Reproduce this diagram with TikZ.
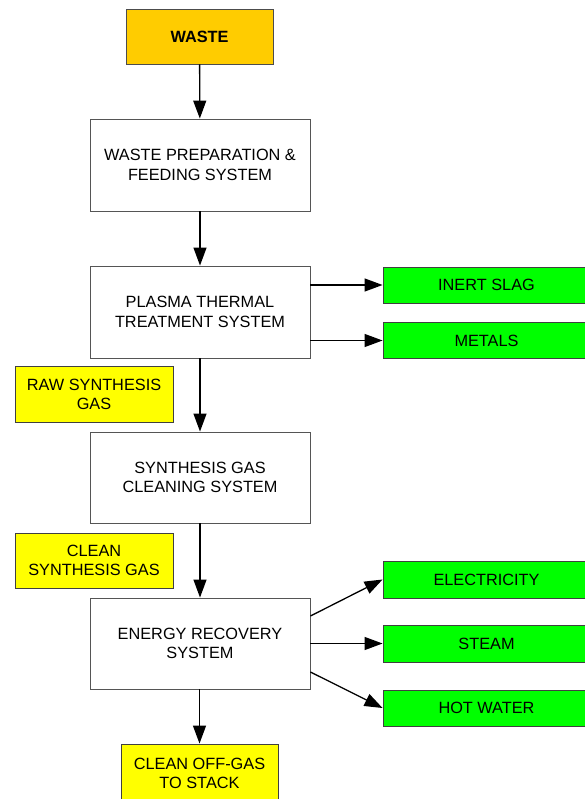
\documentclass[tikz,border=0pt]{standalone}
\usepackage{fontspec}
\setmainfont{Liberation Sans}
\usetikzlibrary{arrows.meta,calc}
\definecolor{wasteorange}{HTML}{FFCC00}
\definecolor{labelyellow}{HTML}{FFFF00}
\definecolor{outgreen}{HTML}{00FF00}
\definecolor{boxborder}{HTML}{555555}
\begin{document}
\begin{tikzpicture}[x=1pt,y=-1pt,
  every node/.style={font=\fontsize{16.3}{19.5}\selectfont, align=center, inner sep=0pt},
  procbox/.style={draw=boxborder, line width=0.9pt, fill=white, minimum width=220pt, minimum height=92pt},
  yellowbox/.style={draw=black!75, line width=0.9pt, fill=labelyellow, minimum width=158pt, minimum height=56pt},
  greenbox/.style={draw=black!75, line width=0.9pt, fill=outgreen, minimum width=207pt, minimum height=36pt},
  flow/.style={line width=1.3pt, -{Triangle[length=18pt,width=13pt]}}
]
\useasboundingbox (0,0) rectangle (584,799);
\node[draw=black!70, line width=0.9pt, fill=wasteorange, minimum width=147pt, minimum height=55pt, font=\fontsize{16.3}{19.5}\selectfont\bfseries] (waste) at (199.5,36.5) {WASTE};
\node[procbox] (prep) at (200,165) {WASTE PREPARATION \&\\FEEDING SYSTEM};
\node[procbox] (plasma) at (200,312) {PLASMA THERMAL\\TREATMENT SYSTEM};
\node[greenbox] (slag) at (486.5,285) {INERT SLAG};
\node[greenbox] (metals) at (486.5,340.5) {METALS};
\node[yellowbox] (raw) at (94,394.5) {RAW SYNTHESIS\\GAS};
\node[procbox, minimum height=91pt] (clean) at (200,477.5) {SYNTHESIS GAS\\CLEANING SYSTEM};
\node[yellowbox, minimum height=55pt] (cleangas) at (94,560.5) {CLEAN\\SYNTHESIS GAS};
\node[procbox, minimum height=91pt] (energy) at (200,643.5) {ENERGY RECOVERY\\SYSTEM};
\node[greenbox, minimum height=37pt] (elec) at (486.5,579.5) {ELECTRICITY};
\node[greenbox, minimum height=37pt] (steam) at (486.5,643.5) {STEAM};
\node[greenbox] (hot) at (486.5,708) {HOT WATER};
\node[yellowbox, minimum width=157pt, minimum height=62pt, text depth=0pt] (offgas) at (199.5,775) {\raisebox{14pt}{\parbox{150pt}{\centering CLEAN OFF-GAS\\TO STACK}}};
\draw[flow] (waste) -- (prep);
\draw[flow] (prep) -- (plasma);
\draw[flow] (plasma) -- (clean);
\draw[flow] (clean) -- (energy);
\draw[flow] (energy.south -| waste) -- (offgas.north -| waste);
\draw[flow] (slag.west -| plasma.east) -- (slag.west);
\draw[flow] (metals.west -| plasma.east) -- (metals.west);
\draw[flow] ([yshift=27.5pt]energy.east) -- (elec.west);
\draw[flow] (energy.east) -- (steam.west);
\draw[flow] ([yshift=-28.5pt]energy.east) -- (hot.west);
\end{tikzpicture}
\end{document}
